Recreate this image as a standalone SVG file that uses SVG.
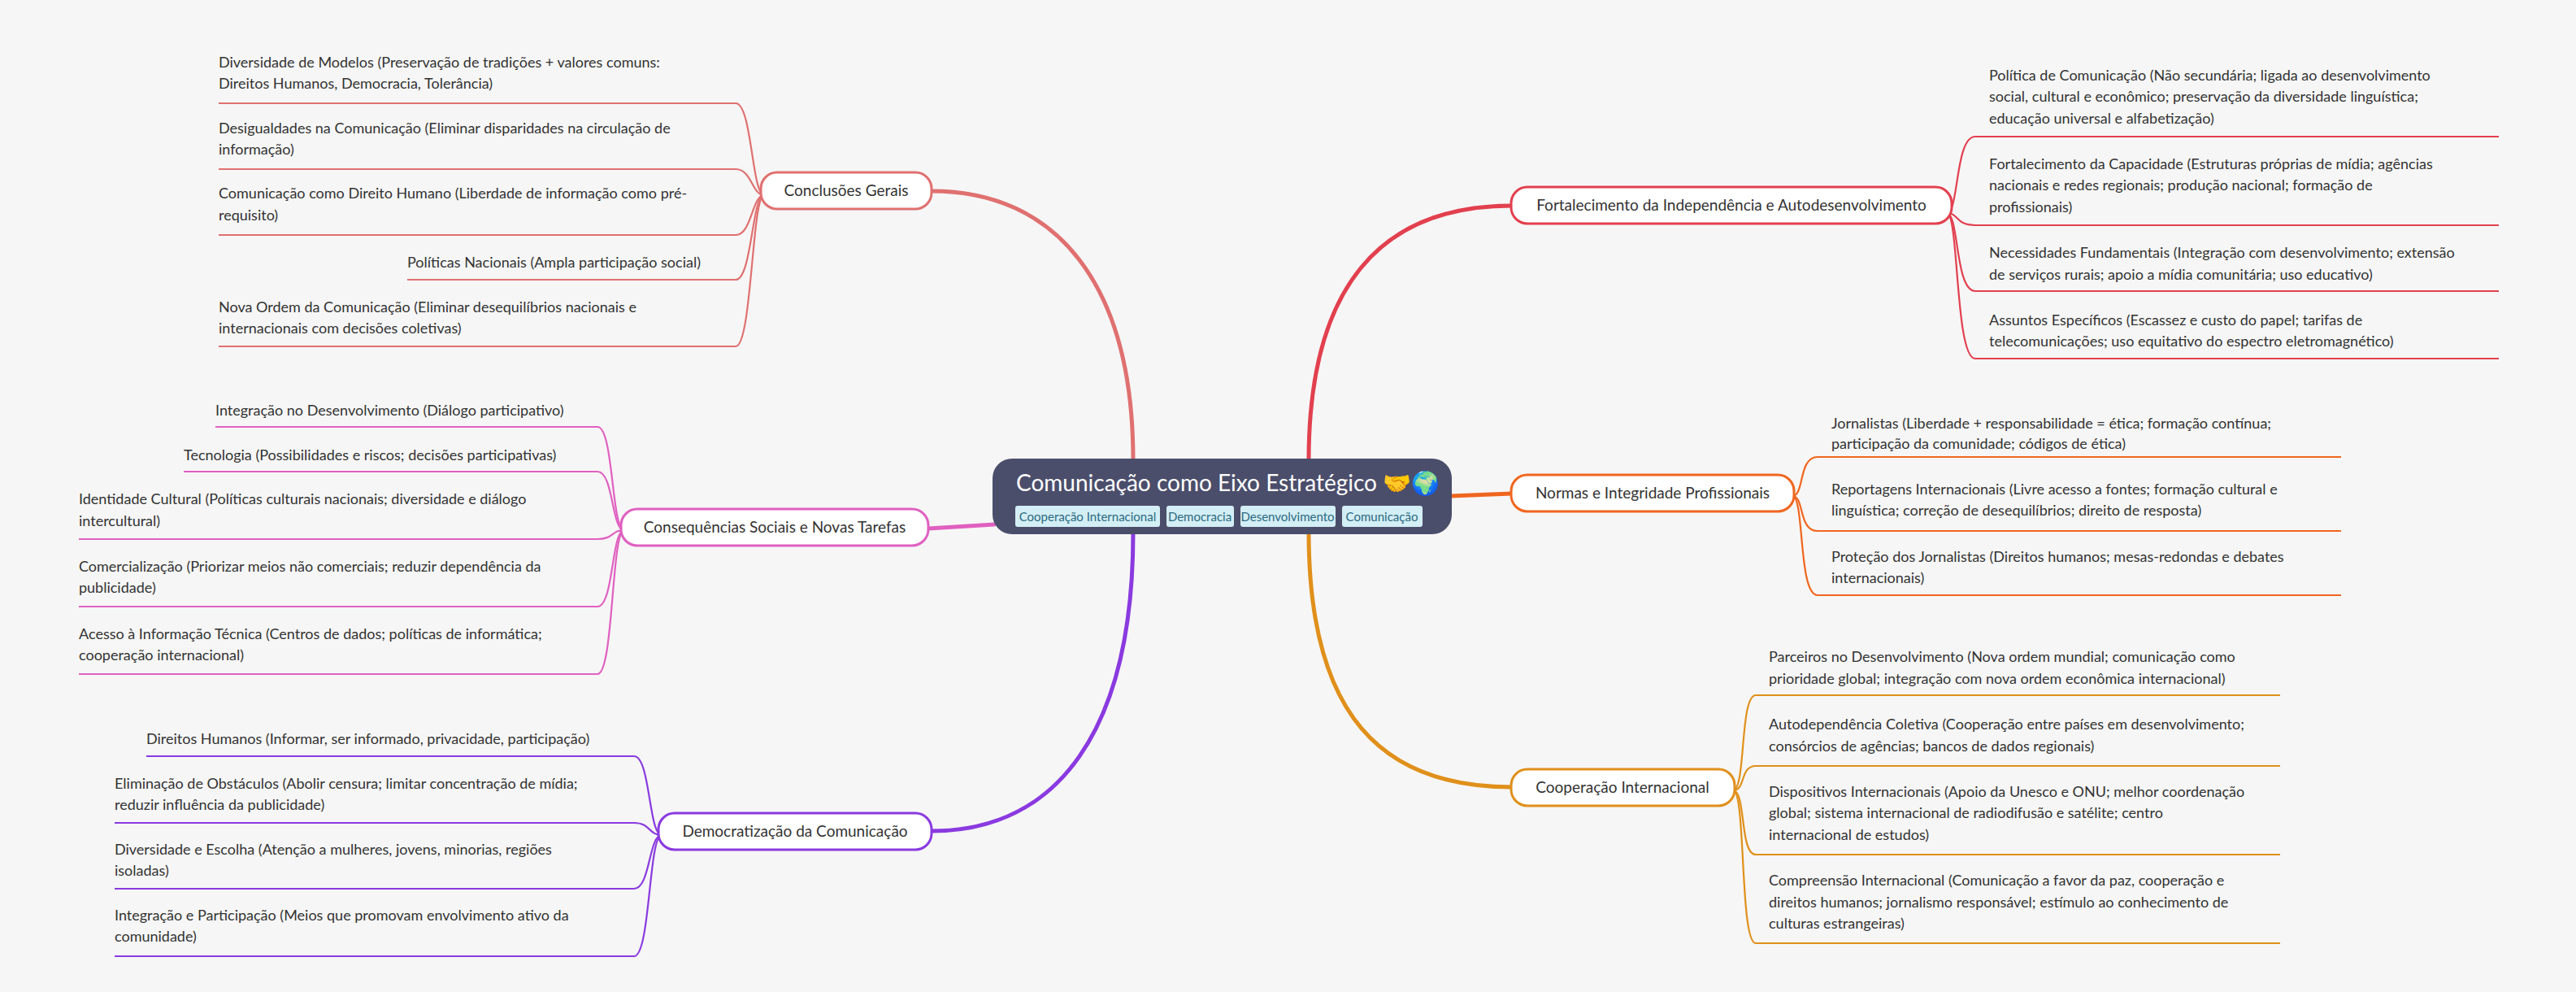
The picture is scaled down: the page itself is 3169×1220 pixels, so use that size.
<svg xmlns="http://www.w3.org/2000/svg" width="3169" height="1220" viewBox="0 0 3169 1220">
<style>
text{font-family:Lato,"Open Sans","Liberation Sans",sans-serif;fill:#333;font-size:18px}
.n{fill:#fff;stroke-width:3}
.nt{text-anchor:middle;font-size:19px}
.m{fill:none;stroke-width:5;stroke-linecap:round}
.l{fill:none;stroke-width:2.2}
.tag{fill:#d4eef5}
.tt{fill:#2a6a80;font-size:15px;text-anchor:middle}
.r{stroke:#e2404f}.o{stroke:#f0661f}.y{stroke:#e0901a}.c{stroke:#e07070}.p{stroke:#e060c0}.v{stroke:#8a3ae0}
</style>
<rect width="3169" height="1220" fill="#f6f6f6"/>
<g id="connectors">
<path class="m r" d="M1610 566 C1610 350 1700 253 1860 253"/>
<path class="m o" d="M1784 610 L1860 607"/>
<path class="m y" d="M1610 655 C1610 880 1700 968 1860 968"/>
<path class="m c" d="M1394 566 C1394 350 1300 235 1146 235"/>
<path class="m p" d="M1223 645 L1142 650"/>
<path class="m v" d="M1394 655 C1394 900 1300 1022 1146 1022"/>
<g class="l r"><path d="M2395 262 C2410 262 2405 168 2430 168 H3074"/><path d="M2395 262 C2410 262 2405 277 2430 277 H3074"/><path d="M2395 262 C2410 262 2405 358 2430 358 H3074"/><path d="M2395 262 C2410 262 2405 441 2430 441 H3074"/></g>
<g class="l o"><path d="M2205 610 C2220 610 2212 562 2236 562 H2880"/><path d="M2205 610 C2220 610 2212 653 2236 653 H2880"/><path d="M2205 610 C2220 610 2212 732 2236 732 H2880"/></g>
<g class="l y"><path d="M2132 972 C2148 972 2140 855 2160 855 H2805"/><path d="M2132 972 C2148 972 2140 942 2160 942 H2805"/><path d="M2132 972 C2148 972 2140 1051 2160 1051 H2805"/><path d="M2132 972 C2148 972 2140 1160 2160 1160 H2805"/></g>
<g class="l c"><path d="M940 240 C925 240 925 127 905 127 H269"/><path d="M940 240 C925 240 925 208 905 208 H269"/><path d="M940 240 C925 240 925 289 905 289 H269"/><path d="M940 240 C925 240 925 344 905 344 H501"/><path d="M940 240 C925 240 925 426 905 426 H269"/></g>
<g class="l p"><path d="M768 652 C752 652 755 525 735 525 H265"/><path d="M768 652 C752 652 755 580 735 580 H226"/><path d="M768 652 C752 652 755 663 735 663 H97"/><path d="M768 652 C752 652 755 746 735 746 H97"/><path d="M768 652 C752 652 755 829 735 829 H97"/></g>
<g class="l v"><path d="M814 1027 C798 1027 800 930 780 930 H180"/><path d="M814 1027 C798 1027 800 1012 780 1012 H141"/><path d="M814 1027 C798 1027 800 1093 780 1093 H141"/><path d="M814 1027 C798 1027 800 1176 780 1176 H141"/></g>
</g>
<g id="center">
<rect x="1221" y="564" width="565" height="93" rx="24" fill="#4b4e6b"/>
<text x="1250" y="604" style="fill:#fff;font-size:28px">Comunicação como Eixo Estratégico 🤝🌍</text>
<rect class="tag" x="1249" y="622" width="178" height="26" rx="3"/><text class="tt" x="1338" y="641">Cooperação Internacional</text>
<rect class="tag" x="1435" y="622" width="83" height="26" rx="3"/><text class="tt" x="1476" y="641">Democracia</text>
<rect class="tag" x="1526" y="622" width="117" height="26" rx="3"/><text class="tt" x="1584" y="641">Desenvolvimento</text>
<rect class="tag" x="1651" y="622" width="99" height="26" rx="3"/><text class="tt" x="1700" y="641">Comunicação</text>
</g>
<g id="n1"><rect class="n r" x="1859" y="230" width="542" height="45" rx="20"/><text class="nt" x="2130" y="259">Fortalecimento da Independência e Autodesenvolvimento</text></g>
<g id="n1a"><text x="2447" y="99">Política de Comunicação (Não secundária; ligada ao desenvolvimento</text><text x="2447" y="125">social, cultural e econômico; preservação da diversidade linguística;</text><text x="2447" y="152">educação universal e alfabetização)</text></g>
<g id="n1b"><text x="2447" y="208">Fortalecimento da Capacidade (Estruturas próprias de mídia; agências</text><text x="2447" y="234">nacionais e redes regionais; produção nacional; formação de</text><text x="2447" y="261">profissionais)</text></g>
<g id="n1c"><text x="2447" y="317">Necessidades Fundamentais (Integração com desenvolvimento; extensão</text><text x="2447" y="344">de serviços rurais; apoio a mídia comunitária; uso educativo)</text></g>
<g id="n1d"><text x="2447" y="400">Assuntos Específicos (Escassez e custo do papel; tarifas de</text><text x="2447" y="426">telecomunicações; uso equitativo do espectro eletromagnético)</text></g>
<g id="n2"><rect class="n o" x="1859" y="584" width="348" height="45" rx="20"/><text class="nt" x="2033" y="613">Normas e Integridade Profissionais</text></g>
<g id="n2a"><text x="2253" y="527">Jornalistas (Liberdade + responsabilidade = ética; formação contínua;</text><text x="2253" y="552">participação da comunidade; códigos de ética)</text></g>
<g id="n2b"><text x="2253" y="608">Reportagens Internacionais (Livre acesso a fontes; formação cultural e</text><text x="2253" y="634">linguística; correção de desequilíbrios; direito de resposta)</text></g>
<g id="n2c"><text x="2253" y="691">Proteção dos Jornalistas (Direitos humanos; mesas-redondas e debates</text><text x="2253" y="717">internacionais)</text></g>
<g id="n3"><rect class="n y" x="1859" y="946" width="275" height="45" rx="20"/><text class="nt" x="1996" y="975">Cooperação Internacional</text></g>
<g id="n3a"><text x="2176" y="814">Parceiros no Desenvolvimento (Nova ordem mundial; comunicação como</text><text x="2176" y="841">prioridade global; integração com nova ordem econômica internacional)</text></g>
<g id="n3b"><text x="2176" y="897">Autodependência Coletiva (Cooperação entre países em desenvolvimento;</text><text x="2176" y="924">consórcios de agências; bancos de dados regionais)</text></g>
<g id="n3c"><text x="2176" y="980">Dispositivos Internacionais (Apoio da Unesco e ONU; melhor coordenação</text><text x="2176" y="1006">global; sistema internacional de radiodifusão e satélite; centro</text><text x="2176" y="1033">internacional de estudos)</text></g>
<g id="n3d"><text x="2176" y="1089">Compreensão Internacional (Comunicação a favor da paz, cooperação e</text><text x="2176" y="1116">direitos humanos; jornalismo responsável; estímulo ao conhecimento de</text><text x="2176" y="1142">culturas estrangeiras)</text></g>
<g id="n4"><rect class="n c" x="936" y="212" width="210" height="45" rx="20"/><text class="nt" x="1041" y="241">Conclusões Gerais</text></g>
<g id="n4a"><text x="269" y="83">Diversidade de Modelos (Preservação de tradições + valores comuns:</text><text x="269" y="109">Direitos Humanos, Democracia, Tolerância)</text></g>
<g id="n4b"><text x="269" y="164">Desigualdades na Comunicação (Eliminar disparidades na circulação de</text><text x="269" y="190">informação)</text></g>
<g id="n4c"><text x="269" y="244">Comunicação como Direito Humano (Liberdade de informação como pré-</text><text x="269" y="271">requisito)</text></g>
<g id="n4d"><text x="501" y="329">Políticas Nacionais (Ampla participação social)</text></g>
<g id="n4e"><text x="269" y="384">Nova Ordem da Comunicação (Eliminar desequilíbrios nacionais e</text><text x="269" y="410">internacionais com decisões coletivas)</text></g>
<g id="n5"><rect class="n p" x="764" y="626" width="378" height="45" rx="20"/><text class="nt" x="953" y="655">Consequências Sociais e Novas Tarefas</text></g>
<g id="n5a"><text x="265" y="511">Integração no Desenvolvimento (Diálogo participativo)</text></g>
<g id="n5b"><text x="226" y="566">Tecnologia (Possibilidades e riscos; decisões participativas)</text></g>
<g id="n5c"><text x="97" y="620">Identidade Cultural (Políticas culturais nacionais; diversidade e diálogo</text><text x="97" y="647">intercultural)</text></g>
<g id="n5d"><text x="97" y="703">Comercialização (Priorizar meios não comerciais; reduzir dependência da</text><text x="97" y="729">publicidade)</text></g>
<g id="n5e"><text x="97" y="786">Acesso à Informação Técnica (Centros de dados; políticas de informática;</text><text x="97" y="812">cooperação internacional)</text></g>
<g id="n6"><rect class="n v" x="810" y="1000" width="336" height="45" rx="20"/><text class="nt" x="978" y="1029">Democratização da Comunicação</text></g>
<g id="n6a"><text x="180" y="915">Direitos Humanos (Informar, ser informado, privacidade, participação)</text></g>
<g id="n6b"><text x="141" y="970">Eliminação de Obstáculos (Abolir censura; limitar concentração de mídia;</text><text x="141" y="996">reduzir influência da publicidade)</text></g>
<g id="n6c"><text x="141" y="1051">Diversidade e Escolha (Atenção a mulheres, jovens, minorias, regiões</text><text x="141" y="1077">isoladas)</text></g>
<g id="n6d"><text x="141" y="1132">Integração e Participação (Meios que promovam envolvimento ativo da</text><text x="141" y="1158">comunidade)</text></g>
</svg>
